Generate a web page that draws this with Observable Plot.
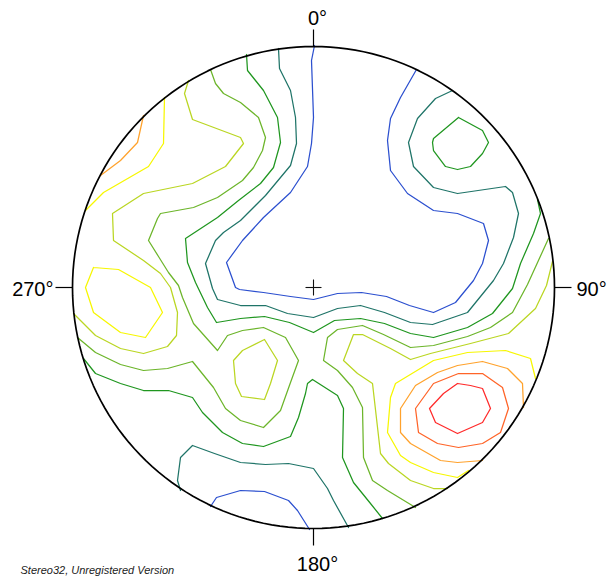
<!DOCTYPE html>
<html>
<head>
<meta charset="utf-8">
<script src="https://cdn.jsdelivr.net/npm/d3@7"></script>
<script src="https://cdn.jsdelivr.net/npm/@observablehq/plot@0.6"></script>
<style>
  html, body { margin: 0; padding: 0; background: #fff; }
  svg { display: block; }
</style>
</head>
<body>
<div id="chart"></div>
<script>
// Net: equal-area stereonet, projected coordinates (origin = net centre, y = north), radius in net units
const netRadius = 241;

// Compass labels
const bearings = [0, 90, 180, 270];
const bearingLabels = ["0°", "90°", "180°", "270°"];

// Contour levels (low → high density) and their colours
const levelNames = ["1", "2", "3", "4", "5", "6", "7", "8", "9"];
const levelColors = ["#2b4fcf", "#1f7468", "#1f961f", "#6cb52a", "#bad622", "#f7f700", "#ffa22c", "#ff6428", "#ff2a2a"];

// Contour polylines [x, y] in net units
const blueA = [[1,242],[-2,227],[0,170],[-2,144],[-6,121],[-23,95],[-50,70],[-71,47],[-87,25],[-78,0],[-74,-2],[-50,-5],[-23,-9],[0,-12],[24,-6],[48,-5],[73,-9],[96,-18],[120,-25],[142,-15],[160,7],[169,24],[175,47],[170,64],[144,74],[120,77],[94,94],[77,117],[74,147],[77,169],[87,190],[103,218]];
const blueB = [[-103,-219],[-97,-210],[-73,-203],[-49,-204],[-25,-213],[-16,-223],[-4,-242]];
const tealA = [[-35,239],[-34,219],[-23,197],[-18,170],[-17,144],[-23,122],[-48,92],[-73,67],[-90,55],[-98,47],[-108,24],[-101,-1],[-96,-12],[-73,-18],[-48,-18],[-26,-26],[0,-30],[24,-21],[47,-18],[71,-25],[97,-35],[119,-37],[154,-25],[180,7],[190,24],[200,50],[205,74],[199,95],[192,101],[144,94],[120,100],[100,121],[95,145],[104,169],[122,189],[139,197]];
const tealB = [[-133,-203],[-136,-193],[-133,-170],[-121,-158],[-99,-166],[-73,-175],[-48,-177],[-25,-176],[0,-181],[14,-201],[20,-213],[35,-240]];
const greenA = [[-67,233],[-66,217],[-50,197],[-36,170],[-33,145],[-40,120],[-53,104],[-75,87],[-96,70],[-128,49],[-126,25],[-118,5],[-106,-20],[-97,-35],[-73,-31],[-49,-29],[-24,-35],[0,-45],[21,-33],[47,-31],[71,-36],[97,-46],[120,-50],[154,-40],[179,-26],[199,-1],[207,24],[220,54],[227,74],[224,88]];
const greenB = [[145,170],[120,149],[119,145],[120,137],[132,121],[144,118],[157,121],[169,134],[175,145],[169,157],[145,170]];
const greenC = [[-230,-71],[-218,-86],[-193,-96],[-170,-103],[-145,-103],[-121,-110],[-111,-125],[-91,-145],[-71,-156],[-50,-159],[-23,-149],[-15,-130],[-8,-106],[-6,-96],[-1,-92],[24,-108],[30,-121],[29,-170],[40,-195],[57,-216],[69,-231]];
const yellowGreenA = [[-103,218],[-98,204],[-90,194],[-73,185],[-55,170],[-48,150],[-51,137],[-60,120],[-71,107],[-96,90],[-120,80],[-153,74],[-156,69],[-165,47],[-155,31],[-145,15],[-135,2],[-131,-10],[-120,-36],[-96,-63],[-86,-48],[-71,-43],[-50,-40],[-28,-50],[-15,-73],[-23,-95],[-33,-123],[-50,-140],[-73,-133],[-88,-121],[-100,-100],[-121,-74],[-146,-81],[-170,-83],[-193,-77],[-218,-65],[-236,-50]];
const yellowGreenB = [[235,49],[214,3],[199,-25],[177,-40],[154,-49],[120,-58],[97,-60],[70,-47],[49,-38],[24,-42],[14,-50],[10,-73],[24,-83],[39,-100],[49,-120],[50,-170],[59,-193],[74,-203],[102,-220]];
const limeA = [[-125,207],[-129,194],[-121,168],[-73,150],[-70,144],[-88,121],[-121,104],[-170,94],[-201,74],[-200,47],[-170,27],[-153,14],[-143,0],[-136,-25],[-137,-48],[-146,-59],[-170,-66],[-193,-61],[-218,-48],[-240,-26]];
const limeB = [[239,26],[233,2],[222,-21],[195,-46],[157,-56],[117,-66],[97,-72],[77,-61],[49,-47],[40,-47],[30,-73],[44,-86],[59,-96],[67,-166],[75,-176],[97,-193],[120,-201],[134,-201]];
const limeC = [[-80,-73],[-71,-63],[-49,-52],[-36,-73],[-43,-96],[-49,-112],[-72,-109],[-78,-96],[-80,-73]];
const yellowA = [[-149,190],[-150,144],[-165,121],[-210,95],[-228,77]];
const yellowB = [[-220,20],[-195,18],[-163,0],[-151,-25],[-168,-50],[-193,-45],[-220,-25],[-228,0],[-220,20]];
const yellowC = [[222,-91],[217,-71],[192,-63],[154,-65],[120,-73],[82,-96],[77,-110],[74,-145],[87,-168],[97,-175],[120,-185],[144,-190],[155,-183]];
const orangeA = [[-170,172],[-176,145],[-193,127],[-213,112]];
const orangeB = [[169,-173],[144,-175],[127,-173],[97,-156],[87,-145],[87,-121],[102,-98],[124,-85],[144,-78],[169,-74],[194,-81],[209,-96],[210,-120]];
const orangeRed = [[102,-121],[105,-145],[124,-156],[145,-160],[169,-156],[187,-145],[195,-121],[189,-100],[169,-86],[145,-86],[120,-96],[102,-121]];
const red = [[116,-121],[122,-135],[144,-146],[169,-135],[177,-121],[169,-101],[157,-98],[144,-96],[130,-106],[116,-121]];

const footer = "Stereo32, Unregistered Version";

// Build the contour table
const lines = [
  ["1", blueA], ["1", blueB],
  ["2", tealA], ["2", tealB],
  ["3", greenA], ["3", greenB], ["3", greenC],
  ["4", yellowGreenA], ["4", yellowGreenB],
  ["5", limeA], ["5", limeB], ["5", limeC],
  ["6", yellowA], ["6", yellowB], ["6", yellowC],
  ["7", orangeA], ["7", orangeB],
  ["8", orangeRed],
  ["9", red]
];
const contourRows = lines.flatMap(([level, pts], i) => pts.map(([x, y]) => ({id: i, level, x, y})));

// Net outline (primitive circle) and compass ticks
const outline = d3.range(0, 361, 2).map(a => ({x: netRadius * Math.sin(a * Math.PI / 180), y: netRadius * Math.cos(a * Math.PI / 180)}));
const tickLen = 17;
const ticks = bearings.map((b, i) => {
  const s = Math.sin(b * Math.PI / 180), c = Math.cos(b * Math.PI / 180);
  return {b, label: bearingLabels[i],
    x1: netRadius * s, y1: netRadius * c,
    x2: (netRadius + tickLen) * s, y2: (netRadius + tickLen) * c};
});
const crossArm = 8;
const cross = [
  {x1: -crossArm, y1: 0, x2: crossArm, y2: 0},
  {x1: 0, y1: -crossArm, x2: 0, y2: crossArm}
];

const font = "'Liberation Sans', Arial, sans-serif";

const chart = Plot.plot({
  width: 614,
  height: 576,
  margin: 0,
  x: {domain: [-313, 301], axis: null},
  y: {domain: [-289, 287], axis: null},
  color: {type: "ordinal", domain: levelNames, range: levelColors},
  style: {background: "#fff", fontFamily: font},
  marks: [
    Plot.line(contourRows, {x: "x", y: "y", z: "id", stroke: "level", strokeWidth: 1.25, curve: "linear"}),
    Plot.line(outline, {x: "x", y: "y", stroke: "#000", strokeWidth: 1.7}),
    Plot.link(ticks, {x1: "x1", y1: "y1", x2: "x2", y2: "y2", stroke: "#000", strokeWidth: 1.2}),
    Plot.link(cross, {x1: "x1", y1: "y1", x2: "x2", y2: "y2", stroke: "#111", strokeWidth: 1.1}),
    Plot.text(ticks.filter(d => d.b === 0), {x: "x2", y: "y2", text: "label", textAnchor: "middle", lineAnchor: "bottom", dx: 4, dy: -5, fontSize: 20, fill: "#000"}),
    Plot.text(ticks.filter(d => d.b === 180), {x: "x2", y: "y2", text: "label", textAnchor: "middle", lineAnchor: "top", dx: 4, dy: 11, fontSize: 20, fill: "#000"}),
    Plot.text(ticks.filter(d => d.b === 90), {x: "x2", y: "y2", text: "label", textAnchor: "start", lineAnchor: "middle", dx: 5, dy: 2, fontSize: 20, fill: "#000"}),
    Plot.text(ticks.filter(d => d.b === 270), {x: "x2", y: "y2", text: "label", textAnchor: "end", lineAnchor: "middle", dx: -2, dy: 2, fontSize: 20, fill: "#000"}),
    Plot.text([footer], {frameAnchor: "bottom-left", text: d => d, textAnchor: "start", lineAnchor: "bottom", dx: 20, dy: -3, fontSize: 11, fontStyle: "italic", fill: "#222"})
  ]
});
document.getElementById("chart").appendChild(chart);
</script>
</body>
</html>
